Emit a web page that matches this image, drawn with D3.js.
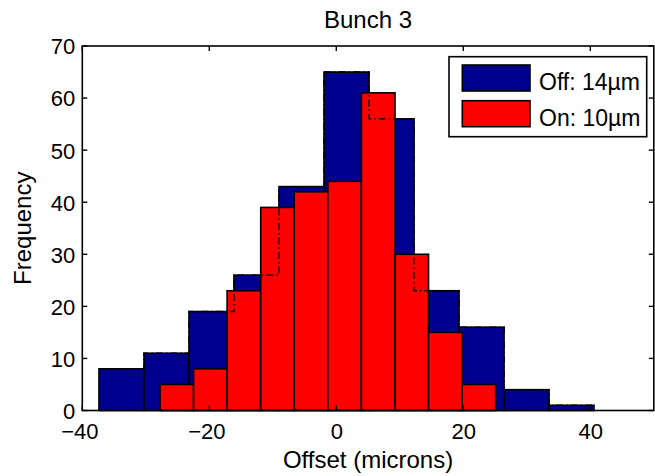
<!DOCTYPE html>
<html>
<head>
<meta charset="utf-8">
<script src="https://cdn.jsdelivr.net/npm/d3@7"></script>
<style>
  html, body { margin: 0; padding: 0; background: #fff; }
  svg text { font-family: "Liberation Sans", Arial, Helvetica, sans-serif; fill: #000; }
</style>
</head>
<body>
<svg id="chart" width="655" height="476"></svg>
<script>
// ---- data ----
const offCenters = [-33.83, -26.74, -19.65, -12.57, -5.48, 1.61, 8.70, 15.78, 22.87, 29.96, 37.04];
const offCounts  = [8, 11, 19, 26, 43, 65, 56, 23, 16, 4, 1];
const onCenters  = [-25.12, -19.83, -14.55, -9.26, -3.98, 1.31, 6.60, 11.88, 17.17, 22.45];
const onCounts   = [5, 8, 23, 39, 42, 44, 61, 30, 15, 5];
const seriesNames = ["Off: 14\u00B5m", "On: 10\u00B5m"];
const xTicks = [-40, -20, 0, 20, 40];
const yTicks = [0, 10, 20, 30, 40, 50, 60, 70];
const titleText = "Bunch 3";
const xLabel = "Offset (microns)";
const yLabel = "Frequency";

const colors = ["#00008F", "#FF0000"];
const tickFont = 22;
const labelFont = 24;
const legendFont = 23;

const svg = d3.select("#chart");
const m = {left: 82.3, right: 653.8, top: 46, bottom: 410.5};
const x = d3.scaleLinear().domain([-40, 50]).range([m.left, m.right]);
const y = d3.scaleLinear().domain([0, 70]).range([m.bottom, m.top]);

function bins(centers, counts) {
  const w = centers[1] - centers[0];
  return centers.map((c, i) => ({x0: c - w / 2, x1: c + w / 2, v: counts[i]}));
}
const offBins = bins(offCenters, offCounts);
const onBins = bins(onCenters, onCounts);

const g = svg.append("g");
function drawBars(data, color) {
  g.append("g").selectAll("rect").data(data).join("rect")
    .attr("x", d => x(d.x0))
    .attr("width", d => x(d.x1) - x(d.x0))
    .attr("y", d => y(d.v))
    .attr("height", d => y(0) - y(d.v))
    .attr("fill", color)
    .attr("stroke", "#000")
    .attr("stroke-width", 1.6);
}
drawBars(offBins, colors[0]);
drawBars(onBins, colors[1]);

// hidden outline of the Off histogram (dash-dot)
const stairs = [];
offBins.forEach(b => {
  stairs.push([b.x0, b.v]);
  stairs.push([b.x1, b.v]);
});
g.append("path")
  .attr("d", d3.line().x(d => x(d[0])).y(d => y(d[1]))(stairs))
  .attr("fill", "none")
  .attr("stroke", "#000")
  .attr("stroke-width", 1.4)
  .attr("stroke-dasharray", "7,3,1.5,3");

// axes box
const tickLen = 5;
const axG = svg.append("g");
axG.append("rect")
  .attr("x", m.left).attr("y", m.top)
  .attr("width", m.right - m.left).attr("height", m.bottom - m.top)
  .attr("fill", "none").attr("stroke", "#000").attr("stroke-width", 1.6);

const xAxisB = d3.axisBottom(x).tickValues(xTicks).tickSize(0).tickPadding(13)
  .tickFormat(d => d < 0 ? "\u2212" + Math.abs(d) : String(d));
const xb = axG.append("g").attr("transform", `translate(0,${m.bottom})`).call(xAxisB);
xb.select(".domain").remove();
xb.selectAll("text").attr("font-size", tickFont).attr("font-family", "Liberation Sans, Arial, sans-serif")
  .attr("dx", d => d < 0 ? -3 : 0);

const yAxisL = d3.axisLeft(y).tickValues(yTicks).tickSize(0).tickPadding(7);
const yl = axG.append("g").attr("transform", `translate(${m.left},0)`).call(yAxisL);
yl.select(".domain").remove();
yl.selectAll("text").attr("font-size", tickFont).attr("dy", "0.36em")
  .attr("font-family", "Liberation Sans, Arial, sans-serif");

// inward ticks on all four sides
axG.append("g").selectAll("line").data(xTicks).join("line")
  .attr("x1", d => x(d)).attr("x2", d => x(d))
  .attr("y1", m.bottom).attr("y2", m.bottom - tickLen)
  .attr("stroke", "#000").attr("stroke-width", 1.4);
axG.append("g").selectAll("line").data(xTicks).join("line")
  .attr("x1", d => x(d)).attr("x2", d => x(d))
  .attr("y1", m.top).attr("y2", m.top + tickLen)
  .attr("stroke", "#000").attr("stroke-width", 1.4);
axG.append("g").selectAll("line").data(yTicks).join("line")
  .attr("x1", m.left).attr("x2", m.left + tickLen)
  .attr("y1", d => y(d)).attr("y2", d => y(d))
  .attr("stroke", "#000").attr("stroke-width", 1.4);
axG.append("g").selectAll("line").data(yTicks).join("line")
  .attr("x1", m.right).attr("x2", m.right - tickLen)
  .attr("y1", d => y(d)).attr("y2", d => y(d))
  .attr("stroke", "#000").attr("stroke-width", 1.4);

// titles
svg.append("text").attr("x", (m.left + m.right) / 2).attr("y", 28)
  .attr("text-anchor", "middle").attr("font-size", labelFont).text(titleText);
svg.append("text").attr("x", (m.left + m.right) / 2).attr("y", 468)
  .attr("text-anchor", "middle").attr("font-size", labelFont).text(xLabel);
svg.append("text").attr("transform", `translate(31,${(m.top + m.bottom) / 2}) rotate(-90)`)
  .attr("text-anchor", "middle").attr("font-size", labelFont).text(yLabel);

// legend
const lg = svg.append("g");
lg.append("rect").attr("x", 449).attr("y", 56.7).attr("width", 197.7).attr("height", 80)
  .attr("fill", "#fff").attr("stroke", "#000").attr("stroke-width", 1.6);
seriesNames.forEach((name, i) => {
  const yy = 65 + i * 35.7;
  lg.append("rect").attr("x", 462.3).attr("y", yy).attr("width", 67.7).attr("height", 26)
    .attr("fill", colors[i]).attr("stroke", "#000").attr("stroke-width", 1.6);
  lg.append("text").attr("x", 539).attr("y", yy + 25).attr("font-size", legendFont).text(name);
});
</script>
</body>
</html>
